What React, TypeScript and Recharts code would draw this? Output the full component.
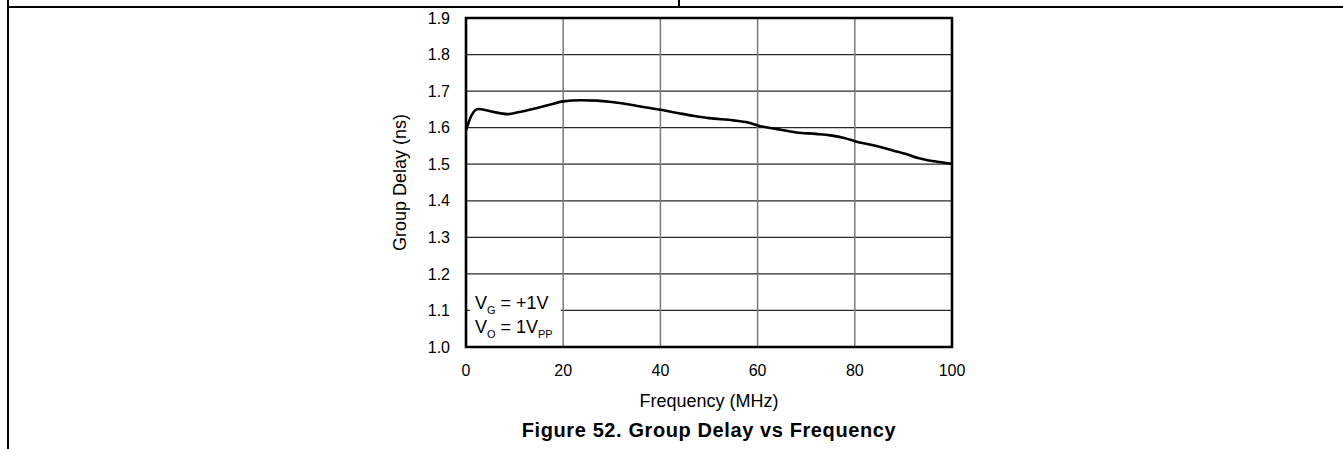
import React from "react";
import {
  CartesianGrid,
  Label,
  Line,
  LineChart,
  ReferenceArea,
  XAxis,
  YAxis,
} from "recharts";

const FONT = '"Liberation Sans", Arial, Helvetica, sans-serif';

// values
const freqMHz = [
  0, 1, 2.5, 5, 8.5, 11, 14, 17, 20, 23.5, 27, 30, 35, 40, 44, 47, 50, 55, 58,
  60, 64, 68, 72, 75, 78, 80, 84, 88, 91, 93, 95, 97, 100,
];
const delayNs = [
  1.592, 1.63, 1.651, 1.645, 1.637, 1.643, 1.652, 1.662, 1.672, 1.675, 1.674,
  1.67, 1.66, 1.649, 1.639, 1.632, 1.626, 1.62, 1.614, 1.606, 1.596, 1.587,
  1.583, 1.579, 1.571, 1.563, 1.551, 1.537, 1.526, 1.517, 1.511, 1.507, 1.501,
];
const xTicks = [0, 20, 40, 60, 80, 100];
const yTicks = [1.0, 1.1, 1.2, 1.3, 1.4, 1.5, 1.6, 1.7, 1.8, 1.9];

const data = freqMHz.map((f, i) => ({ f, d: delayNs[i] }));

function YTitle(props: any) {
  const vb = props.viewBox;
  const cx = vb.x + 26;
  const cy = vb.y + vb.height / 2;
  return (
    <text
      x={cx}
      y={cy}
      transform={`rotate(-90, ${cx}, ${cy})`}
      textAnchor="middle"
      fontSize={18}
      fontFamily={FONT}
      fill="#000"
    >
      Group Delay (ns)
    </text>
  );
}

function XTitles(props: any) {
  const vb = props.viewBox;
  const cx = vb.x + vb.width / 2;
  return (
    <g fontFamily={FONT} fill="#000">
      <text x={cx} y={vb.y + 60} textAnchor="middle" fontSize={18}>
        Frequency (MHz)
      </text>
      <text
        x={cx}
        y={vb.y + 90}
        textAnchor="middle"
        fontSize={20}
        fontWeight="bold"
        letterSpacing={0.6}
      >
        Figure 52. Group Delay vs Frequency
      </text>
    </g>
  );
}

function Conditions(props: any) {
  const vb = props.viewBox;
  const x = vb.x + 5;
  return (
    <g fontFamily={FONT} fill="#000" fontSize={18}>
      <text x={x} y={vb.y + 19}>
        <tspan>V</tspan>
        <tspan fontSize={11} dy={5}>G</tspan>
        <tspan dy={-5}> = +1V</tspan>
      </text>
      <text x={x} y={vb.y + 43}>
        <tspan>V</tspan>
        <tspan fontSize={11} dy={5}>O</tspan>
        <tspan dy={-5}> = 1V</tspan>
        <tspan fontSize={11} dy={5}>PP</tspan>
      </text>
    </g>
  );
}

export default function App() {
  return (
    <div
      style={{
        position: "absolute",
        left: 0,
        top: 0,
        width: 1343,
        height: 449,
        background: "#fff",
        overflow: "hidden",
      }}
    >
      <div style={{ position: "absolute", left: 7, top: 0, width: 2, height: 449, background: "#000" }} />
      <div style={{ position: "absolute", left: 7, top: 6, width: 1336, height: 2, background: "#000" }} />
      <div style={{ position: "absolute", left: 678, top: 0, width: 1.5, height: 7, background: "#000" }} />
      <div style={{ position: "absolute", left: 0, top: 0 }}>
        <LineChart
          width={1343}
          height={449}
          data={data}
          margin={{ top: 18, right: 391, bottom: 0, left: 380 }}
        >
          <CartesianGrid vertical={false} stroke="#2a2a2a" strokeWidth={1.2} />
          <CartesianGrid horizontal={false} stroke="#7a7a7a" strokeWidth={1.5} />
          <XAxis
            dataKey="f"
            type="number"
            domain={[0, 100]}
            ticks={xTicks}
            height={102}
            axisLine={false}
            tickLine={false}
            tickMargin={12}
            tick={{ fill: "#000", fontSize: 16, fontFamily: FONT }}
          >
            <Label content={XTitles} />
          </XAxis>
          <YAxis
            type="number"
            domain={[1.0, 1.9]}
            ticks={yTicks}
            width={86}
            axisLine={false}
            tickLine={false}
            tickMargin={10}
            tickFormatter={(v: number) => v.toFixed(1)}
            tick={{ fill: "#000", fontSize: 16, fontFamily: FONT }}
          >
            <Label content={YTitle} />
          </YAxis>
          <ReferenceArea
            x1={0.8}
            x2={19.5}
            y1={1.0}
            y2={1.156}
            fill="#fff"
            fillOpacity={1}
            stroke="none"
            label={<Conditions />}
          />
          <Line
            type="monotone"
            dataKey="d"
            stroke="#000"
            strokeWidth={2.6}
            dot={false}
            activeDot={false}
            isAnimationActive={false}
          />
          <ReferenceArea
            x1={0}
            x2={100}
            y1={1.0}
            y2={1.9}
            fill="none"
            stroke="#000"
            strokeWidth={2.6}
          />
        </LineChart>
      </div>
    </div>
  );
}
